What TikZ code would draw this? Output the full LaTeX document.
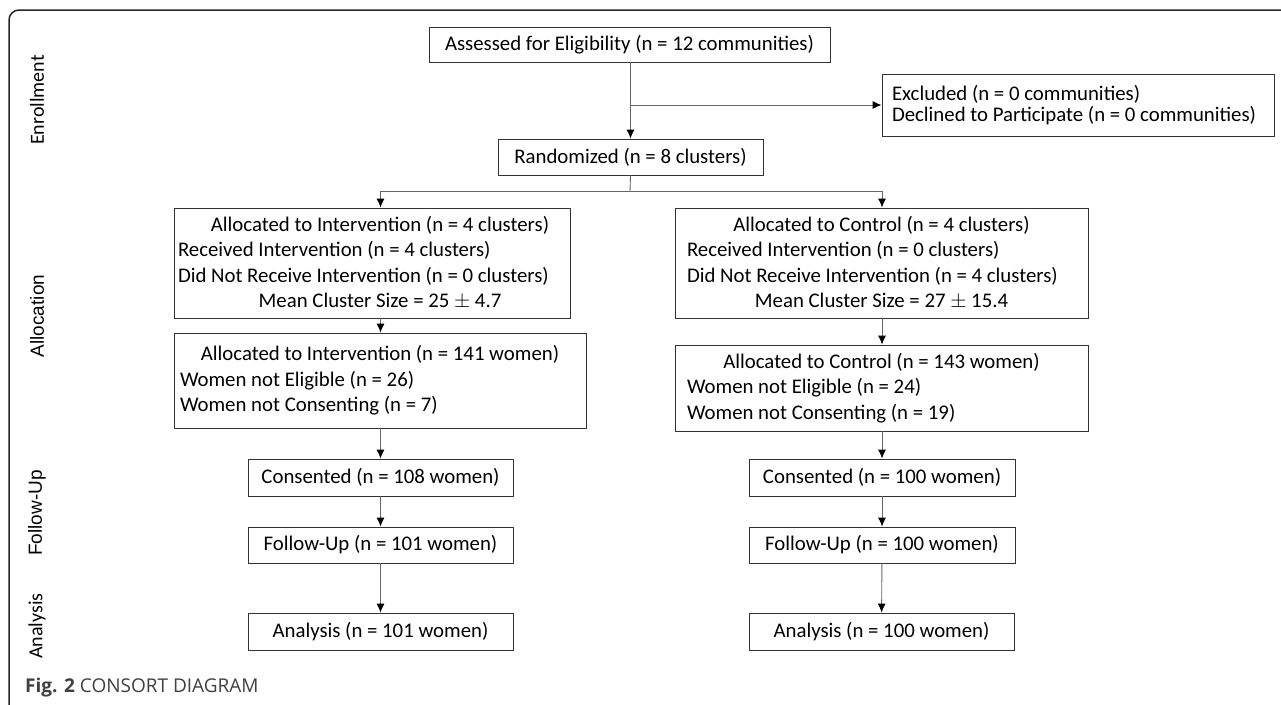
\documentclass[tikz,border=0pt]{standalone}
\usepackage{fontspec}
\setmainfont{Carlito}
\newfontfamily\arialf{Liberation Sans}
\newfontfamily\capf{Open Sans}
\usetikzlibrary{arrows.meta}
\begin{document}
\begin{tikzpicture}[x=1pt,y=-1pt,
  box/.style={draw=black!80, line width=0.9pt, inner sep=0pt, font=\fontsize{20.8}{25.5}\selectfont, align=center},
  lbox/.style={box, align=flush left},
  conn/.style={draw=black!60, line width=0.9pt},
  arr/.style={conn, -{Latex[length=9pt,width=8pt,color=black]}},
  side/.style={rotate=90, font=\fontsize{20}{24}\selectfont, inner sep=0pt},
  frame/.style={draw=black!85, line width=1.5pt, rounded corners=10pt}]
\useasboundingbox (0,0) rectangle (1281,704);
\draw[frame] (1285,10) -- (9,10) -- (9,710);

% side labels
\node[side] (lEn) at (37,100) {Enrollment};
\node[side, font=\arialf\fontsize{19}{24}\selectfont] (lAl) at (37,316) {Allocation};
\node[side, font=\arialf\fontsize{19}{24}\selectfont] (lFu) at (37,513) {Follow-Up};
\node[side] (lAn) at (37,626) {Analysis};

% boxes
\node[box, minimum width=401pt, minimum height=35pt] (ass) at (629.5,44.5) {Assessed for Eligibility (n = 12 communities)};
\node[lbox, minimum width=392pt, minimum height=62pt, text width=372pt, font=\fontsize{20.8}{20.5}\selectfont] (exc) at (1078,105)
  {Excluded (n = 0 communities)\\Declined to Participate (n = 0 communities)};
\node[box, minimum width=265pt, minimum height=36pt] (ran) at (630.5,157) {Randomized (n = 8 clusters)};

\node[lbox, minimum width=396pt, minimum height=110pt, text width=388pt] (alL1) at (372,263)
  {\makebox[\linewidth]{\hspace{16pt}Allocated to Intervention (n = 4 clusters)}\\
   Received Intervention (n = 4 clusters)\\
   Did Not Receive Intervention (n = 0 clusters)\\
   \makebox[\linewidth]{\hspace{16pt}Mean Cluster Size = 25 $\pm$ 4.7}};
\node[lbox, minimum width=413pt, minimum height=110pt, text width=389pt] (alR1) at (881.5,263)
  {\makebox[\linewidth]{Allocated to Control (n = 4 clusters)}\\
   Received Intervention (n = 0 clusters)\\
   Did Not Receive Intervention (n = 4 clusters)\\
   \makebox[\linewidth]{Mean Cluster Size = 27 $\pm$ 15.4}};

\node[lbox, minimum width=412pt, minimum height=95pt, text width=400pt] (alL2) at (380,380.5)
  {\makebox[\linewidth]{Allocated to Intervention (n = 141 women)}\\
   Women not Eligible (n = 26)\\
   Women not Consenting (n = 7)};
\node[lbox, minimum width=413pt, minimum height=86pt, text width=389pt] (alR2) at (881.5,388)
  {\makebox[\linewidth]{Allocated to Control (n = 143 women)}\\
   Women not Eligible (n = 24)\\
   Women not Consenting (n = 19)};

\node[box, minimum width=265pt, minimum height=37pt] (conL) at (380.5,477.5) {Consented (n = 108 women)};
\node[box, minimum width=265pt, minimum height=36pt] (fuL) at (380.5,545) {Follow-Up (n = 101 women)};
\node[box, minimum width=265pt, minimum height=37pt] (anL) at (380.5,631.5) {Analysis (n = 101 women)};
\node[box, minimum width=266pt, minimum height=37pt] (conR) at (882,477.5) {Consented (n = 100 women)};
\node[box, minimum width=266pt, minimum height=36pt] (fuR) at (882,545) {Follow-Up (n = 100 women)};
\node[box, minimum width=265pt, minimum height=37pt] (anR) at (881.5,631.5) {Analysis (n = 100 women)};

% caption
\node[anchor=base west, inner sep=0pt, font=\capf\fontsize{19}{22}\selectfont, text=black!75] (cap) at (25,692)
  {\textbf{Fig. 2} CONSORT DIAGRAM};

% connectors
\draw[arr] (ass.south -| ran.north) -- (ran.north);
\coordinate (br) at (630,105);
\draw[arr] (br) -- (exc.west);
\coordinate (sp) at (630,191);
\draw[conn] (ran.south) -- (sp);
\draw[arr] (sp) -| (alL1.north -| conL.north);
\draw[arr] (sp) -| (alR1.north -| conR.north);
\draw[arr] (alL1.south -| conL.north) -- (alL2.north -| conL.north);
\draw[arr] (alR1.south -| conR.north) -- (alR2.north -| conR.north);
\draw[arr] (alL2.south -| conL.north) -- (conL.north);
\draw[arr] (alR2.south -| conR.north) -- (conR.north);
\draw[arr] (conL) -- (fuL);
\draw[arr] (conR) -- (fuR);
\draw[arr] (fuL) -- (anL);
\draw[arr] (fuR) -- (anR);
\end{tikzpicture}
\end{document}
